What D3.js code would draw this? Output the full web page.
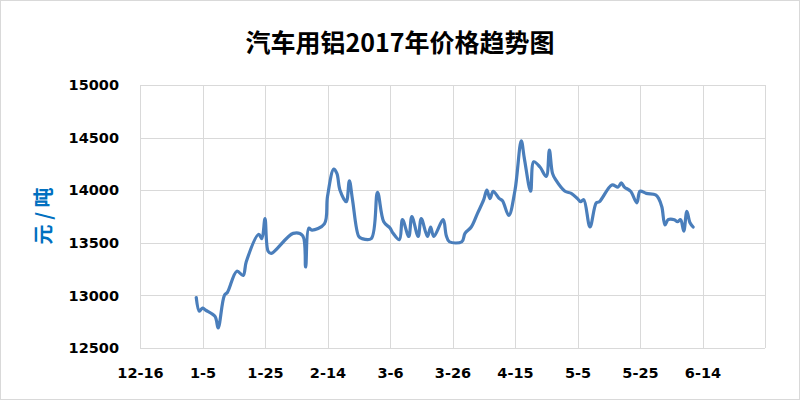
<!DOCTYPE html>
<html>
<head>
  <meta charset="UTF-8">
  <title>汽车用铝2017年价格趋势图</title>
  <style>
    body { margin: 0; background: #fff; }
    svg { display: block; }
    .tick text { font-family: "DejaVu Sans", sans-serif; font-weight: bold; font-size: 14.5px; fill: #000; }
  </style>
</head>
<body>
  <svg></svg>
  <script src="https://d3js.org/d3.v7.min.js"></script>
  <script>
    // 日期（2016-12-16 起），价格 元/吨
    const dates = ["2017-01-03","2017-01-04","2017-01-05","2017-01-06","2017-01-09","2017-01-10","2017-01-12","2017-01-13",
      "2017-01-16","2017-01-18","2017-01-19","2017-01-23","2017-01-24","2017-01-25","2017-01-26","2017-01-27",
      "2017-02-03","2017-02-06","2017-02-07","2017-02-08","2017-02-09","2017-02-13","2017-02-14","2017-02-16",
      "2017-02-17","2017-02-18","2017-02-20","2017-02-21","2017-02-22","2017-02-24","2017-02-25","2017-02-28",
      "2017-03-02","2017-03-04","2017-03-06","2017-03-07","2017-03-09","2017-03-10","2017-03-12","2017-03-13",
      "2017-03-15","2017-03-16","2017-03-18","2017-03-19","2017-03-20","2017-03-23","2017-03-24","2017-03-25",
      "2017-03-29","2017-03-30","2017-04-01","2017-04-03","2017-04-05","2017-04-06","2017-04-07","2017-04-08",
      "2017-04-10","2017-04-11","2017-04-13","2017-04-15","2017-04-17","2017-04-18","2017-04-20","2017-04-21",
      "2017-04-23","2017-04-25","2017-04-26","2017-04-27","2017-04-28","2017-05-01","2017-05-03","2017-05-05",
      "2017-05-06","2017-05-07","2017-05-09","2017-05-11","2017-05-12","2017-05-16","2017-05-18","2017-05-19",
      "2017-05-20","2017-05-22","2017-05-24","2017-05-25","2017-05-27","2017-05-30","2017-05-31","2017-06-01",
      "2017-06-02","2017-06-03","2017-06-05","2017-06-06","2017-06-07","2017-06-08","2017-06-09","2017-06-10",
      "2017-06-11"];
    const prices = [12980,12850,12880,12860,12800,12690,13000,13030,
      13230,13190,13320,13580,13540,13730,13420,13400,
      13590,13570,13270,13640,13620,13680,13940,14200,
      14160,14000,13890,14090,13910,13560,13540,13540,
      13980,13700,13640,13590,13530,13720,13560,13750,
      13560,13730,13560,13650,13560,13720,13570,13510,
      13510,13590,13650,13780,13910,14000,13920,13990,
      13920,13900,13760,14000,14470,14300,13990,14270,
      14220,14130,14380,14160,14100,13990,13970,13920,
      13890,13910,13650,13880,13890,14050,14030,14070,
      14030,13990,13880,13990,13970,13955,13920,13840,
      13670,13720,13720,13700,13720,13610,13800,13690,
      13650];
    const xTicks = ["2016-12-16","2017-01-05","2017-01-25","2017-02-14","2017-03-06","2017-03-26",
      "2017-04-15","2017-05-05","2017-05-25","2017-06-14"];
    const xEnd = "2017-07-04";
    const yTicks = [12500,13000,13500,14000,14500,15000];

    let width = 800, height = 400;
    let plotLeft = 140, plotRight = 765, plotTop = 85, plotBottom = 348;
    let parse = d3.timeParse("%Y-%m-%d");
    let fmt = d3.timeFormat("%-m-%-d");

    let svg = d3.select("svg").attr("width", width).attr("height", height);

    svg.append("rect")
      .attr("x", 0.5).attr("y", 0.5)
      .attr("width", width - 1).attr("height", height - 1)
      .attr("fill", "#fff").attr("stroke", "#d9d9d9");

    let x = d3.scaleTime().domain([parse(xTicks[0]), parse(xEnd)]).range([plotLeft, plotRight]);
    let y = d3.scaleLinear().domain([12500, 15000]).range([plotBottom, plotTop]);

    // grid
    svg.append("g").selectAll("line")
      .data(yTicks).enter().append("line")
      .attr("x1", plotLeft).attr("x2", plotRight)
      .attr("y1", d => Math.round(y(d)) + 0.5).attr("y2", d => Math.round(y(d)) + 0.5)
      .attr("stroke", "#d9d9d9");
    svg.append("g").selectAll("line")
      .data(xTicks.concat([xEnd])).enter().append("line")
      .attr("x1", d => Math.round(x(parse(d))) + 0.5).attr("x2", d => Math.round(x(parse(d))) + 0.5)
      .attr("y1", plotTop).attr("y2", plotBottom)
      .attr("stroke", "#d9d9d9");

    // axes (labels only)
    let yAxis = svg.append("g")
      .attr("transform", `translate(${plotLeft},0)`)
      .call(d3.axisLeft(y).tickValues(yTicks).tickSize(0).tickPadding(21).tickFormat(d3.format("d")));
    yAxis.select(".domain").remove();

    let xAxis = svg.append("g")
      .attr("transform", `translate(0,${plotBottom})`)
      .call(d3.axisBottom(x).tickValues(xTicks.map(parse)).tickSize(0).tickPadding(20).tickFormat(fmt));
    xAxis.select(".domain").remove();

    // line
    let pts = dates.map((d, i) => [parse(d), prices[i]]);
    svg.append("path")
      .datum(pts)
      .attr("fill", "none")
      .attr("stroke", "#4a7ebb")
      .attr("stroke-width", 3.2)
      .attr("stroke-linejoin", "round")
      .attr("stroke-linecap", "round")
      .attr("d", d3.line().x(d => x(d[0])).y(d => y(d[1])).curve(d3.curveCatmullRom.alpha(0.5)));

    // title
    svg.append("text")
      .attr("x", 400).attr("y", 52)
      .attr("text-anchor", "middle")
      .attr("font-family", "Noto Sans CJK SC")
      .attr("font-weight", "bold")
      .attr("font-size", 25)
      .text("汽车用铝2017年价格趋势图");

    // y label
    svg.append("text")
      .attr("transform", "translate(51,216) rotate(-90)")
      .attr("text-anchor", "middle")
      .attr("font-family", "Noto Sans CJK SC")
      .attr("font-weight", "bold")
      .attr("font-size", 20)
      .attr("fill", "#0070c0")
      .text("元 / 吨");
  </script>
</body>
</html>
